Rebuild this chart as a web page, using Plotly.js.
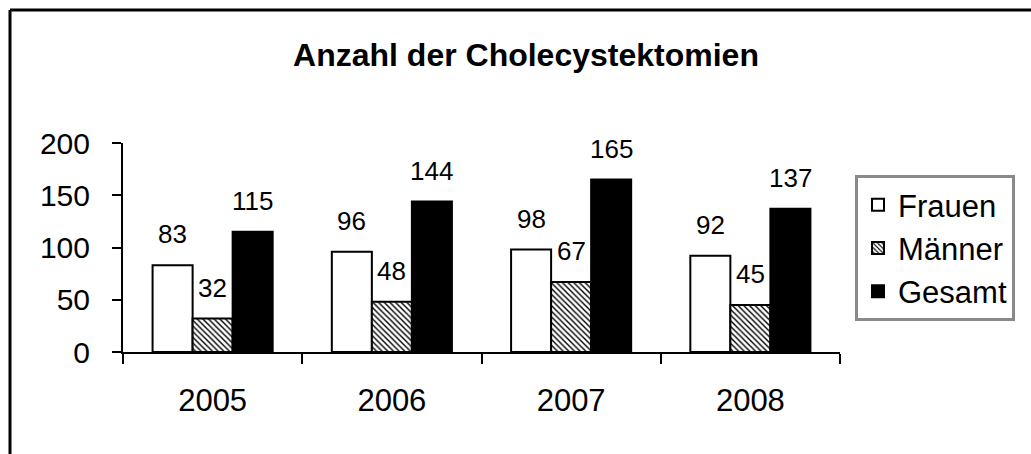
<!DOCTYPE html>
<html>
<head>
<meta charset="utf-8">
<script src="https://cdn.plot.ly/plotly-3.0.1.min.js"></script>
<style>
  html, body { margin: 0; padding: 0; background: #fff; }
  #chart { width: 1031px; height: 454px; }
</style>
</head>
<body>
<div id="chart"></div>
<script>
const years = ['2005', '2006', '2007', '2008'];
const frauen = [83, 96, 98, 92];
const maenner = [32, 48, 67, 45];
const gesamt = [115, 144, 165, 137];
const seriesNames = ['Frauen', 'Männer', 'Gesamt'];
const chartTitle = 'Anzahl der Cholecystektomien';
const yTicks = [0, 50, 100, 150, 200];

const FONT = 'Liberation Sans, Arial, Helvetica, sans-serif';
const BARGAP = 0.33;

const traces = [
  {
    type: 'bar', name: seriesNames[0], x: years, y: frauen,
    marker: { color: '#ffffff', line: { color: '#000', width: 2 } },
    legendgroup: 'a'
  },
  {
    type: 'bar', name: seriesNames[1], x: years, y: maenner,
    marker: {
      color: '#ffffff',
      line: { color: '#000', width: 2 },
      pattern: { shape: '\\', fgcolor: '#000', bgcolor: '#fff', size: 4, solidity: 0.35 }
    },
    legendgroup: 'b'
  },
  {
    type: 'bar', name: seriesNames[2], x: years, y: gesamt,
    marker: { color: '#000000', line: { color: '#000', width: 2 } },
    legendgroup: 'c'
  }
];

// value labels above bars, positioned from the data
const seriesValues = [frauen, maenner, gesamt];
const w = (1 - BARGAP) / seriesValues.length;
const annotations = [];
seriesValues.forEach((vals, k) => {
  vals.forEach((v, i) => {
    annotations.push({
      x: i + (k - 1) * w, y: v, xref: 'x', yref: 'y',
      text: String(v), showarrow: false,
      yanchor: 'bottom', yshift: 14,
      font: { family: FONT, size: 26, color: '#000' }
    });
  });
});

const layout = {
  width: 1031, height: 454,
  margin: { l: 123, r: 191, t: 143, b: 102 },
  paper_bgcolor: '#fff', plot_bgcolor: '#fff',
  barmode: 'group', bargap: BARGAP, bargroupgap: 0,
  font: { family: FONT, color: '#000' },
  title: {
    text: '<b>' + chartTitle + '</b>',
    font: { family: FONT, size: 32, color: '#000' },
    x: 526 / 1031, xanchor: 'center', xref: 'container',
    y: 1 - 55 / 454, yanchor: 'middle', yref: 'container'
  },
  xaxis: {
    type: 'category',
    showline: true, linecolor: '#000', linewidth: 2,
    ticks: 'outside', ticklen: 10, tickwidth: 2, tickcolor: '#000',
    tickson: 'boundaries',
    tickfont: { family: FONT, size: 31, color: '#000' },
    ticklabelstandoff: 20,
    showgrid: false, zeroline: false, fixedrange: true
  },
  yaxis: {
    range: [0, 200], tickvals: yTicks,
    showline: true, linecolor: '#000', linewidth: 2,
    ticks: 'outside', ticklen: 9, tickwidth: 2, tickcolor: '#000',
    tickfont: { family: FONT, size: 30, color: '#000' },
    ticklabelstandoff: 16,
    showgrid: false, zeroline: false, fixedrange: true
  },
  showlegend: true,
  legend: {
    x: (855 - 123) / 717, xanchor: 'left',
    y: (352 - 175) / 209, yanchor: 'top',
    bgcolor: '#fff', bordercolor: '#8a8a8a', borderwidth: 3,
    font: { family: FONT, size: 31, color: '#000' },
    traceorder: 'grouped', tracegroupgap: 0,
    itemwidth: 30
  },
  annotations: annotations,
  shapes: [
    { type: 'line', xref: 'paper', yref: 'paper',
      x0: (10 - 123) / 717, x1: (1031 - 123) / 717,
      y0: (352 - 10) / 209, y1: (352 - 10) / 209,
      line: { color: '#000', width: 3 } },
    { type: 'line', xref: 'paper', yref: 'paper',
      x0: (10 - 123) / 717, x1: (10 - 123) / 717,
      y0: (352 - 10) / 209, y1: (352 - 460) / 209,
      line: { color: '#000', width: 3 } }
  ]
};

Plotly.newPlot('chart', traces, layout, { displayModeBar: false, staticPlot: true });
</script>
</body>
</html>
